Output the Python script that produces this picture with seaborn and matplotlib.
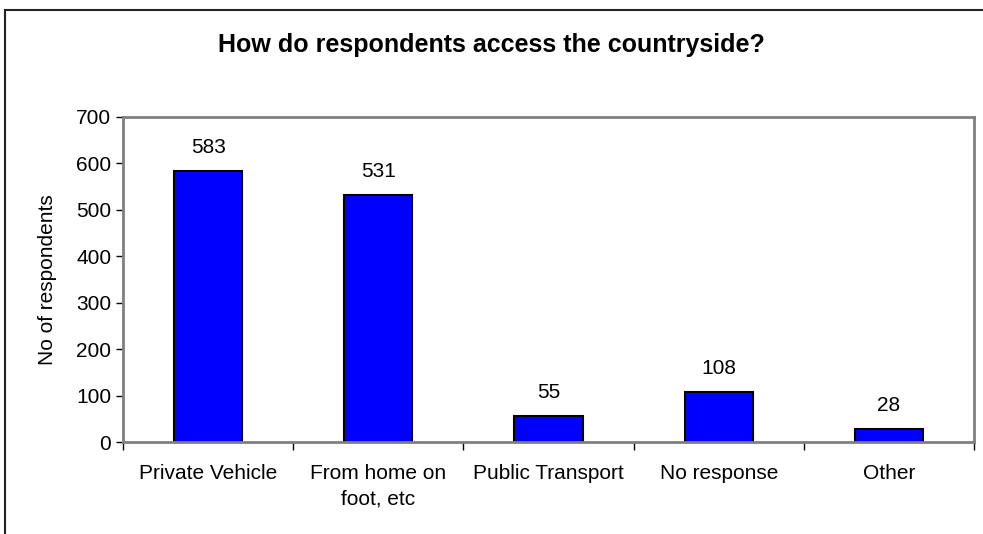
import pandas as pd
import seaborn as sns
import matplotlib.pyplot as plt
from matplotlib.patches import Rectangle

# Chart data
categories = ['Private Vehicle', 'From home on\nfoot, etc', 'Public Transport', 'No response', 'Other']
respondents = [583, 531, 55, 108, 28]

df = pd.DataFrame({'access': categories, 'count': respondents})

sns.set_style('white')
plt.rcParams['font.family'] = ['Liberation Sans', 'DejaVu Sans']
plt.rcParams.update({'text.color': 'black', 'axes.labelcolor': 'black',
                     'xtick.color': 'black', 'ytick.color': 'black'})

W, H = 983, 534
fig = plt.figure(figsize=(W / 100, H / 100), dpi=100)

# plot area in pixel coords: left 123, top 117, right 974, bottom 442
ax = fig.add_axes([123 / W, 1 - 442 / H, (974 - 123) / W, (442 - 117) / H])

sns.barplot(data=df, x='access', y='count', color='#0000FF', saturation=1,
            width=0.4, edgecolor='black', linewidth=1.5, ax=ax)

ax.set_ylim(0, 700)
ax.set_yticks(range(0, 701, 100))
ax.set_xlim(-0.5, len(categories) - 0.5)
ax.set_xlabel('')
ax.set_ylabel('No of respondents', fontsize=15, labelpad=14)
ax.tick_params(axis='both', labelsize=15, length=5, width=1,
               direction='out', bottom=True, left=True)
ax.tick_params(axis='x', length=0, pad=16)
for lbl in ax.get_xticklabels():
    lbl.set_linespacing(1.45)

# Excel-style category boundary ticks
ax.set_xticks([i - 0.5 for i in range(len(categories) + 1)], minor=True)
ax.tick_params(axis='x', which='minor', length=6, width=1, bottom=True)

for s in ax.spines.values():
    s.set_color('#808080')
    s.set_linewidth(2)

for i, v in enumerate(respondents):
    ax.annotate(str(v), (i, v), xytext=(0, 17), textcoords='offset points',
                ha='center', va='center', fontsize=15)

fig.text(0.5, 1 - 45 / H, 'How do respondents access the countryside?',
         ha='center', va='center', fontsize=18, fontweight='bold')

# outer chart frame (runs off the right and bottom edges)
fig.patches.append(Rectangle((5 / W, -0.1), 1.2, 1 - 10 / H + 0.1,
                             transform=fig.transFigure, fill=False,
                             edgecolor='#222222', linewidth=1.5))

fig.savefig('out.png', dpi=100)
